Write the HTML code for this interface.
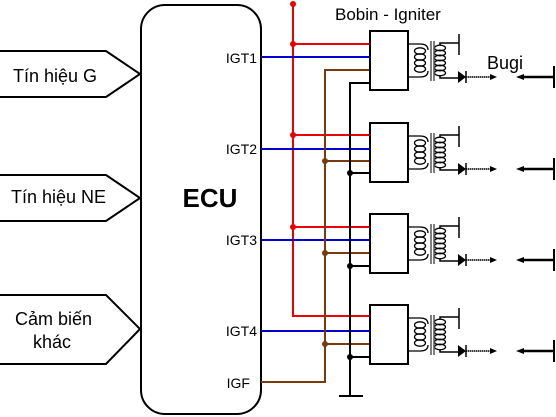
<!DOCTYPE html>
<html><head><meta charset="utf-8"><style>
body{margin:0;background:#fff}
svg{display:block}
text{font-family:"Liberation Sans",sans-serif}
</style></head><body>
<svg width="556" height="417" viewBox="0 0 556 417" xmlns="http://www.w3.org/2000/svg">
<defs>
<g id="unit">
  <rect x="370" y="31" width="38" height="59" fill="#fff" stroke="#000" stroke-width="2"/>
  <path d="M408 44 H420 Q428 44 428 50 M408 77 H420 Q428 77 428 71" fill="none" stroke="#000" stroke-width="1.3"/>
  <g fill="none" stroke="#000" stroke-width="1.3">
    <ellipse cx="420" cy="51" rx="5.5" ry="3.2"/><ellipse cx="420" cy="57" rx="5.5" ry="3.2"/><ellipse cx="420" cy="63" rx="5.5" ry="3.2"/><ellipse cx="420" cy="69" rx="5.5" ry="3.2"/>
    <ellipse cx="440" cy="48" rx="5.5" ry="2.8"/><ellipse cx="440" cy="53" rx="5.5" ry="2.8"/><ellipse cx="440" cy="58" rx="5.5" ry="2.8"/><ellipse cx="440" cy="63" rx="5.5" ry="2.8"/><ellipse cx="440" cy="68" rx="5.5" ry="2.8"/><ellipse cx="440" cy="73" rx="5.5" ry="2.8"/>
  </g>
  <path d="M431 41 V81 M434 41 V81" stroke="#555" stroke-width="1.5"/>
  <path d="M440 45 V43 H459 M459 34 V55 M440 76 V78 H458" fill="none" stroke="#000" stroke-width="1.5"/>
  <path d="M458 71 L466 77 L458 83 Z" fill="#000"/>
  <path d="M466 71 V83" stroke="#000" stroke-width="1.5"/>
  <path d="M466 77 H492" stroke="#000" stroke-width="1.5" stroke-dasharray="1.5 0.5"/>
  <path d="M490 74 L497 77 L490 80 Z" fill="#000"/>
  <path d="M522 77 H554" stroke="#000" stroke-width="2.5"/>
  <path d="M516 77 L524 74 L524 80 Z" fill="#000"/>
  <path d="M554 66 V88" stroke="#000" stroke-width="2"/>
</g>
</defs>
<g fill="#fff" stroke="#000" stroke-width="2">
<path d="M0 51 H106 L140 74 L106 97 H0"/>
<path d="M0 175 H106 L140 198 L106 221 H0"/>
<path d="M0 295 H106 L140 329 L106 364 H0"/>
</g>
<text x="13" y="82" font-size="18">Tín hiệu G</text>
<text x="11" y="203" font-size="18">Tín hiệu NE</text>
<text x="15" y="325" font-size="18">Cảm biến</text>
<text x="33" y="348" font-size="18">khác</text>
<rect x="141" y="5" width="120" height="409" rx="24" fill="#fff" stroke="#000" stroke-width="2"/>
<text x="210" y="207" font-size="26" font-weight="bold" text-anchor="middle">ECU</text>
<g font-size="14" text-anchor="end">
<text x="257" y="63">IGT1</text><text x="257" y="154">IGT2</text><text x="257" y="245">IGT3</text><text x="257" y="336">IGT4</text><text x="250" y="388">IGF</text>
</g>
<g fill="none" stroke-width="2">
<path d="M293 4 V316 H370 M293 44 H370 M293 135 H370 M293 227 H370" stroke="#e00"/>
<path d="M261 57 H370 M261 149 H370 M261 240 H370 M261 331 H370" stroke="#00c"/>
<path d="M261 382 H325 V70 H370 M325 161 H370 M325 253 H370 M325 344 H370" stroke="#7a3a10"/>
<path d="M350 396 V83 H370 M350 173 H370 M350 266 H370 M350 357 H370 M339 396 H363" stroke="#000"/>
</g>
<g fill="#e00"><circle cx="293" cy="4" r="3"/><circle cx="293" cy="44" r="3"/><circle cx="293" cy="135" r="3"/><circle cx="293" cy="227" r="3"/></g>
<g fill="#7a3a10"><circle cx="325" cy="161" r="3"/><circle cx="325" cy="253" r="3"/><circle cx="325" cy="344" r="3"/></g>
<g fill="#000"><circle cx="350" cy="173" r="3"/><circle cx="350" cy="266" r="3"/><circle cx="350" cy="357" r="3"/></g>
<use href="#unit"/>
<use href="#unit" y="92"/>
<use href="#unit" y="183"/>
<use href="#unit" y="274"/>
<text x="335" y="20" font-size="17">Bobin - Igniter</text>
<text x="487" y="69" font-size="18">Bugi</text>
</svg>
</body></html>
